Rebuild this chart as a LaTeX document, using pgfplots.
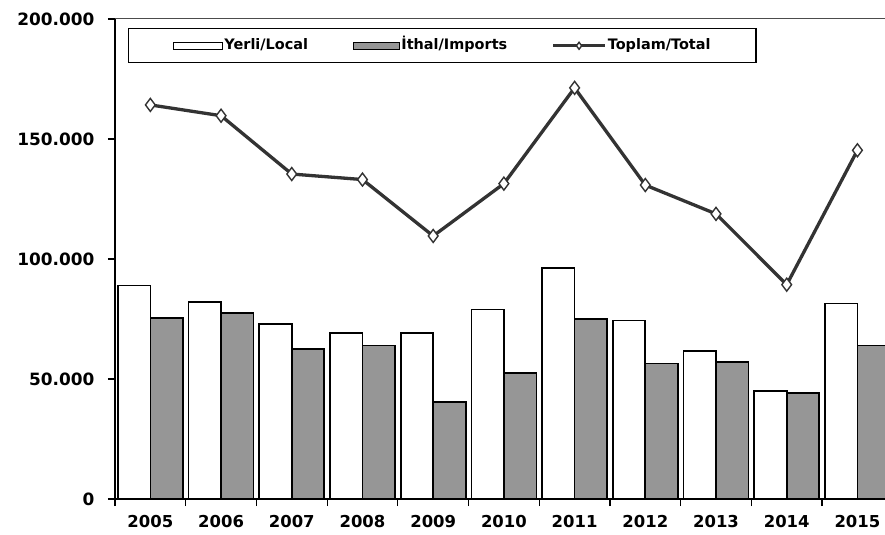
\documentclass[border=0pt]{standalone}
\usepackage{fontspec}
\setmainfont{DejaVu Sans}
\usepackage{pgfplots}
\usepackage{pgfplotstable}
\pgfplotsset{compat=1.18}
\definecolor{barGray}{HTML}{969696}
\definecolor{lineGray}{HTML}{333333}

\pgfplotsset{
  localleg/.style={legend image code/.code={\draw[##1, line width=1.3bp] (0bp,-3.5bp) rectangle (49bp,3.5bp);}},
  impleg/.style={legend image code/.code={\draw[##1, line width=1.3bp] (0bp,-3.5bp) rectangle (46bp,3.5bp);}},
  totleg/.style={legend image code/.code={\draw[mark repeat=2, mark phase=2, ##1, line width=2.6bp, mark size=3.5bp] plot coordinates {(0bp,0bp) (26bp,0bp) (52bp,0bp)};}},
}

\pgfplotstableread{
x local imports total
0 88900 75300 164200
1 82100 77600 159700
2 72900 62500 135400
3 69200 63900 133100
4 69200 40400 109600
5 78900 52500 131400
6 96200 75100 171300
7 74400 56400 130800
8 61700 57100 118800
9 45000 44300 89300
10 81400 63900 145300
}\datatable

\begin{document}
\begin{tikzpicture}
\begin{axis}[
  scale only axis, width=770bp, height=480bp,
  xmin=-0.5, xmax=10.39, ymin=0, ymax=200000,
  axis x line*=bottom, axis y line*=left,
  axis line style={line width=1.8bp, black},
  ybar=0pt, bar width=0.46,
  xtick={-0.5,0.5,...,9.5}, xticklabels={},
  extra x ticks={0,1,2,3,4,5,6,7,8,9,10},
  extra x tick labels={2005,2006,2007,2008,2009,2010,2011,2012,2013,2014,2015},
  extra x tick style={major tick length=0pt},
  ytick={0,50000,100000,150000,200000},
  yticklabels={0,50.000,100.000,150.000,200.000},
  scaled y ticks=false,
  tick align=outside, major tick length=7bp,
  tick style={line width=1.2bp, black},
  xticklabel style={font=\fontsize{16.5}{19}\selectfont\bfseries, yshift=-13bp},
  yticklabel style={font=\fontsize{17}{20}\selectfont\bfseries, xshift=-10bp},
  legend columns=3,
  legend cell align=left,
  legend style={at={(axis description cs:0.0169,0.981)}, anchor=north west,
    draw=black, line width=1.3bp, fill=white,
    font=\fontsize{14.5}{17}\selectfont\bfseries,
    inner xsep=44bp, inner ysep=8.5bp,
    nodes={inner sep=1.5bp, text height=11bp, text depth=3bp},
    /tikz/every even column/.append style={column sep=43bp}},
]
\addplot[draw=black, fill=white, line width=1.7bp, localleg]
  table[x=x, y=local] {\datatable};
\addlegendentry{Yerli/Local}
\addplot[draw=black, fill=barGray, line width=1.7bp, impleg]
  table[x=x, y=imports] {\datatable};
\addlegendentry{İthal/Imports}
\addplot[sharp plot, lineGray, line width=3.3bp, mark=diamond*, mark size=6.5bp,
  mark options={fill=white, draw=lineGray, line width=1.4bp}, totleg]
  table[x=x, y=total] {\datatable};
\addlegendentry{Toplam/Total}
\end{axis}
\draw[line width=1bp, black!70] (current axis.north west) -- (current axis.north east);
\pgfresetboundingbox
\path ([xshift=-115bp,yshift=-36bp]current axis.south west) rectangle ([yshift=19bp]current axis.north east);
\end{tikzpicture}
\end{document}
